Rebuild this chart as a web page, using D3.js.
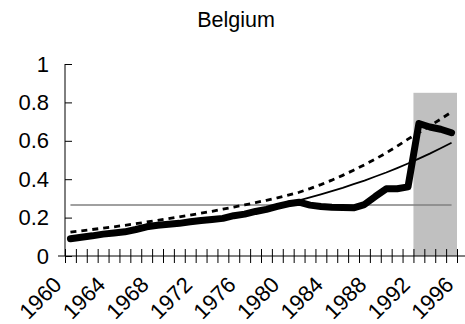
<!DOCTYPE html>
<html>
<head>
<meta charset="utf-8">
<script src="https://cdn.jsdelivr.net/npm/d3@7"></script>
<style>
  body { margin: 0; background: #fff; }
  text { font-family: "Liberation Sans", Arial, sans-serif; fill: #000; }
</style>
</head>
<body>
<div id="vis"></div>
<script>
// frame
const FRAME_WIDTH = 465;
const FRAME_HEIGHT = 324;
const MARGINS = {left: 65, right: 8, top: 64, bottom: 68};

// data
const YEARS = d3.range(1960, 1996);          // one value per year, plotted mid-year
const TICK_YEARS = d3.range(1960, 1997);     // tick marks every year
const LABEL_YEARS = [1960, 1964, 1968, 1972, 1976, 1980, 1984, 1988, 1992, 1996];
const Y_TICKS = [0, 0.2, 0.4, 0.6, 0.8, 1];

const ACTUAL = [0.090, 0.098, 0.105, 0.114, 0.120, 0.126, 0.138, 0.152, 0.160, 0.165,
                0.170, 0.178, 0.185, 0.190, 0.196, 0.210, 0.218, 0.232, 0.243, 0.258,
                0.272, 0.280, 0.265, 0.258, 0.254, 0.253, 0.251, 0.268, 0.310, 0.350,
                0.350, 0.360, 0.690, 0.672, 0.660, 0.642];
const TREND_SOLID = [0.100, 0.105, 0.111, 0.116, 0.122, 0.129, 0.136, 0.143, 0.150, 0.158,
                     0.166, 0.175, 0.184, 0.193, 0.203, 0.214, 0.225, 0.237, 0.249, 0.262,
                     0.276, 0.290, 0.305, 0.321, 0.338, 0.355, 0.374, 0.393, 0.414, 0.435,
                     0.458, 0.482, 0.507, 0.533, 0.561, 0.590];
const TREND_DASHED = [0.124, 0.131, 0.138, 0.145, 0.152, 0.160, 0.168, 0.177, 0.186, 0.195,
                      0.204, 0.213, 0.223, 0.233, 0.244, 0.255, 0.266, 0.278, 0.290, 0.303,
                      0.317, 0.332, 0.351, 0.372, 0.395, 0.420, 0.447, 0.475, 0.505, 0.537,
                      0.572, 0.609, 0.643, 0.677, 0.713, 0.750];
const MEAN_LEVEL = 0.265;
const SHADE = {from: 1992, to: 1996, top: 0.85};

const VIS_WIDTH = FRAME_WIDTH - MARGINS.left - MARGINS.right;
const VIS_HEIGHT = FRAME_HEIGHT - MARGINS.top - MARGINS.bottom;

const svg = d3.select("#vis")
  .append("svg")
    .attr("width", FRAME_WIDTH)
    .attr("height", FRAME_HEIGHT);

const X_SCALE = d3.scaleLinear()
  .domain([1960, 1996])
  .range([MARGINS.left, MARGINS.left + VIS_WIDTH]);

const Y_SCALE = d3.scaleLinear()
  .domain([0, 1])
  .range([MARGINS.top + VIS_HEIGHT, MARGINS.top]);

// title
svg.append("text")
  .attr("x", 236)
  .attr("y", 27)
  .attr("text-anchor", "middle")
  .attr("font-size", "21.5px")
  .text("Belgium");

// shaded period
svg.append("rect")
  .attr("x", X_SCALE(SHADE.from))
  .attr("y", Y_SCALE(SHADE.top))
  .attr("width", X_SCALE(SHADE.to) - X_SCALE(SHADE.from))
  .attr("height", Y_SCALE(0) - Y_SCALE(SHADE.top))
  .attr("fill", "#c0c0c0");

// x axis: ticks crossing the axis line
const xAxis = svg.append("g")
  .attr("transform", "translate(0," + Y_SCALE(0) + ")")
  .call(d3.axisBottom(X_SCALE)
          .tickValues(TICK_YEARS)
          .tickSize(7)
          .tickFormat(""));
xAxis.select(".domain").remove();
xAxis.selectAll(".tick line").attr("y1", -7).attr("stroke", "#000");
xAxis.append("line")
  .attr("x1", MARGINS.left - 7)
  .attr("x2", FRAME_WIDTH)
  .attr("stroke", "#000");

// rotated year labels
svg.selectAll(".ylab")
  .data(LABEL_YEARS)
  .enter()
  .append("text")
    .attr("class", "ylab")
    .attr("font-size", "22px")
    .attr("text-anchor", "end")
    .attr("transform", (d) => "translate(" + (X_SCALE(d) - 2) + "," + 286 + ") rotate(-45)")
    .text((d) => d);

// y axis
const yAxis = svg.append("g")
  .attr("transform", "translate(" + MARGINS.left + ",0)")
  .call(d3.axisLeft(Y_SCALE)
          .tickValues(Y_TICKS)
          .tickSize(7)
          .tickPadding(9)
          .tickFormat((d) => d3.format("~g")(d)));
yAxis.select(".domain").remove();
yAxis.selectAll(".tick line").attr("x2", 7).attr("stroke", "#000");
yAxis.selectAll(".tick text").attr("font-size", "22px").attr("font-family", "Liberation Sans, Arial, sans-serif");
yAxis.append("line")
  .attr("y1", Y_SCALE(1))
  .attr("y2", Y_SCALE(0))
  .attr("stroke", "#000");

const xMid = (d, i) => X_SCALE(YEARS[i] + 0.5);

// horizontal mean line
svg.append("line")
  .attr("x1", X_SCALE(YEARS[0] + 0.5))
  .attr("x2", X_SCALE(YEARS[YEARS.length - 1] + 0.5))
  .attr("y1", Y_SCALE(MEAN_LEVEL))
  .attr("y2", Y_SCALE(MEAN_LEVEL))
  .attr("stroke", "#808080")
  .attr("stroke-width", 1.5);

// actual series
svg.append("path")
  .datum(ACTUAL)
  .attr("d", d3.line().x(xMid).y((d) => Y_SCALE(d)))
  .attr("fill", "none")
  .attr("stroke", "#000")
  .attr("stroke-width", 7)
  .attr("stroke-linejoin", "round")
  .attr("stroke-linecap", "round");

// solid trend
svg.append("path")
  .datum(TREND_SOLID)
  .attr("d", d3.line().x(xMid).y((d) => Y_SCALE(d)))
  .attr("fill", "none")
  .attr("stroke", "#000")
  .attr("stroke-width", 1.8);

// dashed trend
svg.append("path")
  .datum(TREND_DASHED)
  .attr("d", d3.line().x(xMid).y((d) => Y_SCALE(d)))
  .attr("fill", "none")
  .attr("stroke", "#000")
  .attr("stroke-width", 2.8)
  .attr("stroke-dasharray", "6,5");
</script>
</body>
</html>
